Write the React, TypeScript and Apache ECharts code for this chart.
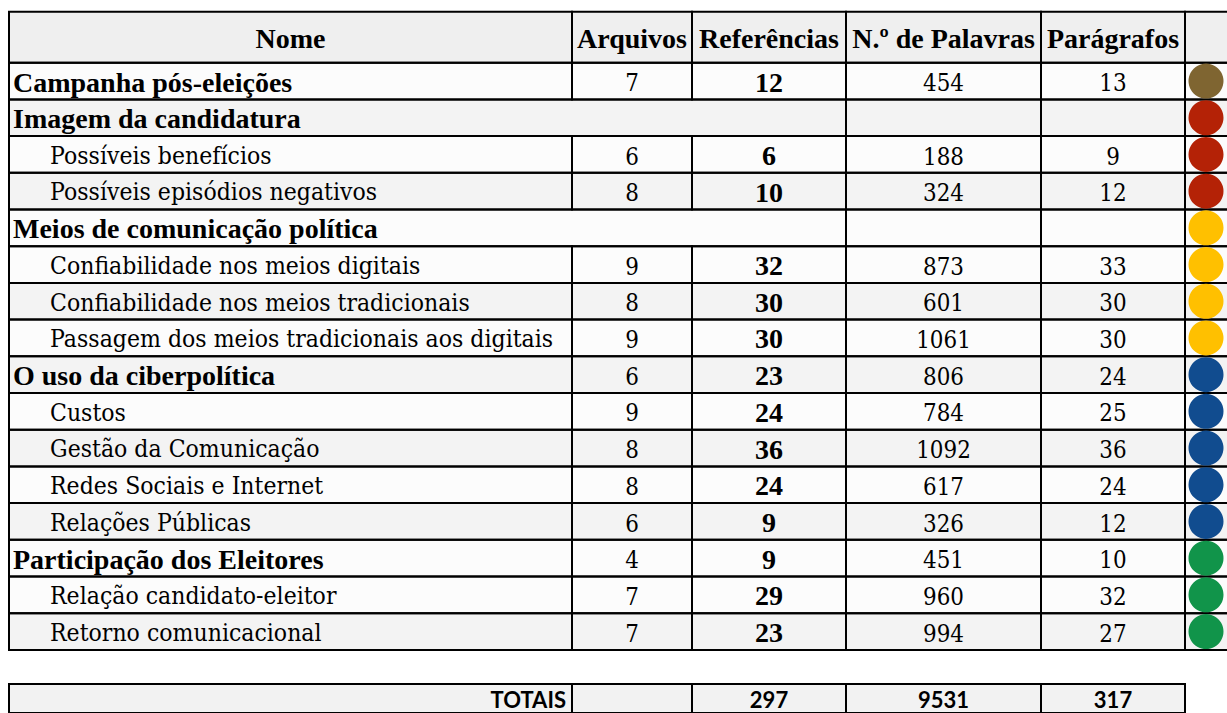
import React, { useEffect, useRef } from "react";
import * as echarts from "echarts";

// ---- data ----
const headerLabels = ["Nome", "Arquivos", "Referências", "N.º de Palavras", "Parágrafos", ""];
const names = [
  "Campanha pós-eleições",
  "Imagem da candidatura",
  "Possíveis benefícios",
  "Possíveis episódios negativos",
  "Meios de comunicação política",
  "Confiabilidade nos meios digitais",
  "Confiabilidade nos meios tradicionais",
  "Passagem dos meios tradicionais aos digitais",
  "O uso da ciberpolítica",
  "Custos",
  "Gestão da Comunicação",
  "Redes Sociais e Internet",
  "Relações Públicas",
  "Participação dos Eleitores",
  "Relação candidato-eleitor",
  "Retorno comunicacional",
];
const levels = [0, 0, 1, 1, 0, 1, 1, 1, 0, 1, 1, 1, 1, 0, 1, 1];
const arquivos = [7, null, 6, 8, null, 9, 8, 9, 6, 9, 8, 8, 6, 4, 7, 7];
const referencias = [12, null, 6, 10, null, 32, 30, 30, 23, 24, 36, 24, 9, 9, 29, 23];
const palavras = [454, null, 188, 324, null, 873, 601, 1061, 806, 784, 1092, 617, 326, 451, 960, 994];
const paragrafos = [13, null, 9, 12, null, 33, 30, 30, 24, 25, 36, 24, 12, 10, 32, 27];
const groups = [0, 1, 1, 1, 2, 2, 2, 2, 3, 3, 3, 3, 3, 4, 4, 4];
const totalsLabel = "TOTAIS";
const totals = [297, 9531, 317];

// ---- styles / layout ----
const groupColors = ["#7f6531", "#b42206", "#ffc000", "#114c8f", "#11944a"];
const rowShade = [0, 1, 0, 1, 0, 0, 1, 0, 1, 0, 1, 0, 1, 0, 0, 1];
const COL_EDGES = [9, 572, 692, 846, 1041, 1185, 1245];
const SERIF_BOLD = "Liberation Serif";
const SERIF_REG = "DejaVu Serif";
const SANS = "Lato";

type Cell = {
  value: [number, number, number];
  text: string;
  align: "left" | "center" | "right";
  pad: number;
  bold: boolean;
  bg: string;
  font: string;
  size: number;
  sx: number;
  circle?: string;
};

function makeRenderItem(cells: Cell[]) {
  return (params: any, api: any) => {
    const c = cells[params.dataIndex];
    const p0 = api.coord([api.value(0), api.value(2)]);
    const p1 = api.coord([api.value(1), api.value(2)]);
    const h = api.size([0, 1])[1];
    const x0 = p0[0];
    const x1 = p1[0];
    const yTop = p0[1] - h / 2;
    const w = x1 - x0;
    const children: any[] = [
      { type: "rect", z2: 0, shape: { x: x0, y: yTop, width: w, height: h }, style: { fill: c.bg } },
      {
        type: "rect",
        z2: 10,
        shape: { x: x0, y: yTop, width: w, height: h },
        style: { fill: "none", stroke: "#000", lineWidth: 2 },
      },
    ];
    if (c.text) {
      let tx = x0 + w / 2;
      if (c.align === "left") tx = x0 + c.pad;
      if (c.align === "right") tx = x1 - c.pad;
      children.push({
        type: "text",
        z2: 5,
        x: tx,
        y: p0[1] + 1,
        scaleX: c.sx,
        style: {
          text: c.text,
          x: 0,
          y: 0,
          align: c.align,
          verticalAlign: "middle",
          font: c.bold ? `bold ${c.size}px "${c.font}"` : `${c.size}px "${c.font}"`,
          fill: "#000",
        },
      });
    }
    if (c.circle) {
      children.push({
        type: "circle",
        z2: 20,
        shape: { cx: 1206, cy: p0[1], r: 17.5 },
        style: { fill: c.circle },
      });
    }
    return { type: "group", children };
  };
}

const BOLD_STYLE = { font: SERIF_BOLD, size: 28, sx: 1 };
const REG_STYLE = { font: SERIF_REG, size: 24, sx: 0.92 };
const NUM_STYLE = { font: SERIF_REG, size: 25, sx: 0.86 };

function buildHeader(): Cell[] {
  return headerLabels.map((t, i) => ({
    value: [COL_EDGES[i], COL_EDGES[i + 1], 0] as [number, number, number],
    text: t,
    align: "center",
    pad: 0,
    bold: true,
    bg: "#efefef",
    ...BOLD_STYLE,
  }));
}

function buildBody(): Cell[] {
  const cells: Cell[] = [];
  names.forEach((name, r) => {
    const bg = rowShade[r] ? "#f3f3f3" : "#fcfcfc";
    const merged = arquivos[r] == null && referencias[r] == null;
    const nameEnd = merged ? COL_EDGES[3] : COL_EDGES[1];
    const top = levels[r] === 0;
    cells.push({
      value: [COL_EDGES[0], nameEnd, r],
      text: name,
      align: "left",
      pad: top ? 4 : 41,
      bold: top,
      bg,
      ...(top ? BOLD_STYLE : REG_STYLE),
    });
    const cols: [number | null, boolean][] = merged
      ? []
      : [
          [arquivos[r], false],
          [referencias[r], true],
        ];
    cols.forEach(([v, b], k) => {
      cells.push({
        value: [COL_EDGES[1 + k], COL_EDGES[2 + k], r],
        text: v == null ? "" : String(v),
        align: "center",
        pad: 0,
        bold: b,
        bg,
        ...(b ? BOLD_STYLE : NUM_STYLE),
      });
    });
    [palavras[r], paragrafos[r]].forEach((v, k) => {
      cells.push({
        value: [COL_EDGES[3 + k], COL_EDGES[4 + k], r],
        text: v == null ? "" : String(v),
        align: "center",
        pad: 0,
        bold: false,
        bg,
        ...NUM_STYLE,
      });
    });
    cells.push({
      value: [COL_EDGES[5], COL_EDGES[6], r],
      text: "",
      align: "center",
      pad: 0,
      bold: false,
      bg,
      ...NUM_STYLE,
      circle: groupColors[groups[r]],
    });
  });
  return cells;
}

function buildTotals(): Cell[] {
  const bg = "#f2f2f2";
  const st = { font: SANS, size: 22, sx: 1 };
  const cells: Cell[] = [
    { value: [COL_EDGES[0], COL_EDGES[1], 0], text: totalsLabel, align: "right", pad: 6, bold: true, bg, ...st },
    { value: [COL_EDGES[1], COL_EDGES[2], 0], text: "", align: "center", pad: 0, bold: true, bg, ...st },
  ];
  totals.forEach((v, k) => {
    cells.push({
      value: [COL_EDGES[2 + k], COL_EDGES[3 + k], 0],
      text: String(v),
      align: "center",
      pad: 0,
      bold: true,
      bg,
      ...st,
    });
  });
  return cells;
}

export default function App() {
  const ref = useRef<HTMLDivElement>(null);
  useEffect(() => {
    if (!ref.current) return;
    document.body.style.margin = "0";
    const chart = echarts.init(ref.current, undefined, { renderer: "svg" });
    const header = buildHeader();
    const body = buildBody();
    const tot = buildTotals();
    const grids = [
      { left: 0, right: 0, top: 11.7, height: 51 },
      { left: 0, right: 0, top: 62.7, height: 36.7 * names.length },
      { left: 0, right: 0, top: 684, height: 31 },
    ];
    const xAxes = grids.map((_, i) => ({ type: "value", gridIndex: i, min: 0, max: 1227, show: false }));
    const yAxes = [
      { type: "category", gridIndex: 0, data: ["header"], inverse: true, show: false },
      { type: "category", gridIndex: 1, data: names, inverse: true, show: false },
      { type: "category", gridIndex: 2, data: [totalsLabel], inverse: true, show: false },
    ];
    const mk = (cells: Cell[], i: number) => ({
      type: "custom",
      xAxisIndex: i,
      yAxisIndex: i,
      renderItem: makeRenderItem(cells),
      data: cells.map((c) => c.value),
      encode: { x: [0, 1], y: 2 },
      clip: false,
      silent: true,
    });
    chart.setOption({
      animation: false,
      backgroundColor: "#ffffff",
      grid: grids,
      xAxis: xAxes,
      yAxis: yAxes,
      series: [mk(header, 0), mk(body, 1), mk(tot, 2)],
    });
    return () => chart.dispose();
  }, []);
  return (
    <div
      ref={ref}
      style={{ position: "fixed", left: 0, top: 0, width: 1227, height: 713 }}
    />
  );
}
